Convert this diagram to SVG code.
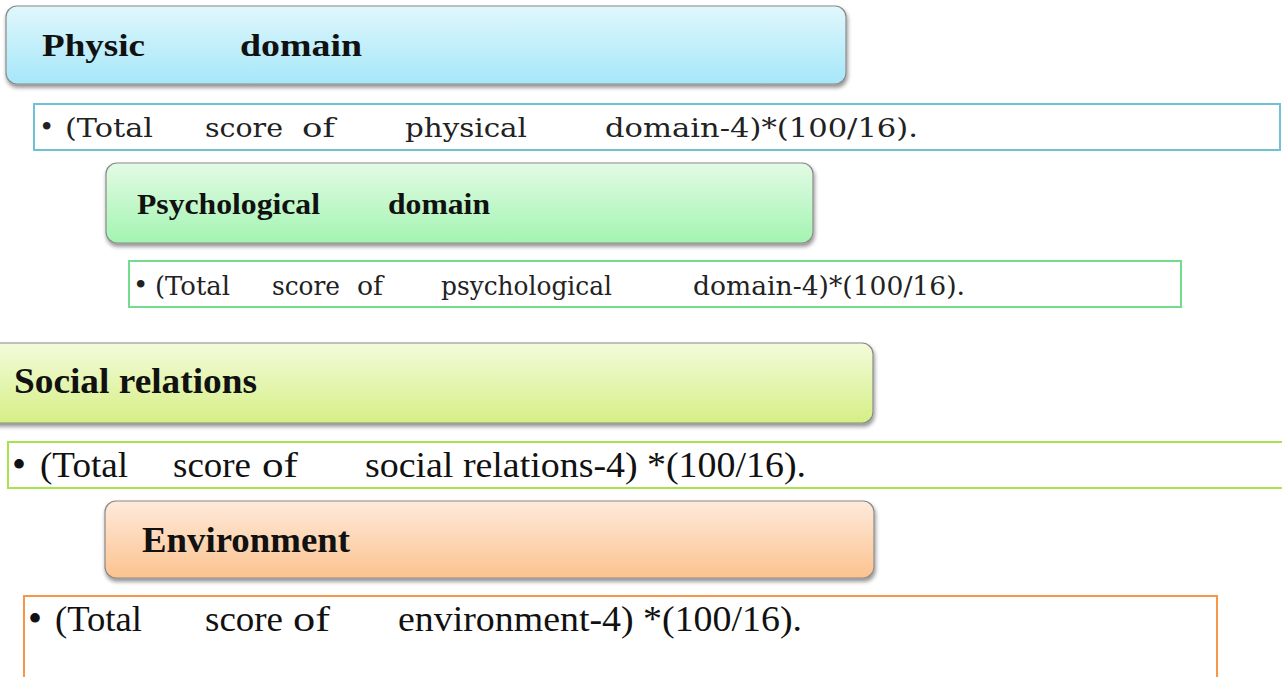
<svg xmlns="http://www.w3.org/2000/svg" width="1282" height="677" viewBox="0 0 1282 677">
  <defs>
    <linearGradient id="gBlue" x1="0" y1="0" x2="0" y2="1">
      <stop offset="0" stop-color="#e0f7fc"/>
      <stop offset="1" stop-color="#a6e7f9"/>
    </linearGradient>
    <linearGradient id="gGreen" x1="0" y1="0" x2="0" y2="1">
      <stop offset="0" stop-color="#e3fbe5"/>
      <stop offset="1" stop-color="#a3f4b1"/>
    </linearGradient>
    <linearGradient id="gLime" x1="0" y1="0" x2="0" y2="1">
      <stop offset="0" stop-color="#f4fbdc"/>
      <stop offset="1" stop-color="#d5ef85"/>
    </linearGradient>
    <linearGradient id="gOrange" x1="0" y1="0" x2="0" y2="1">
      <stop offset="0" stop-color="#feeadb"/>
      <stop offset="1" stop-color="#fcc38f"/>
    </linearGradient>
    <filter id="shadow" x="-5%" y="-20%" width="110%" height="150%">
      <feGaussianBlur in="SourceAlpha" stdDeviation="2"/>
      <feOffset dx="1" dy="3" result="b"/>
      <feComponentTransfer><feFuncA type="linear" slope="0.45"/></feComponentTransfer>
      <feMerge><feMergeNode/><feMergeNode in="SourceGraphic"/></feMerge>
    </filter>
  </defs>
  <style>
    .head { stroke: #8a8a8a; stroke-width: 1.2; filter: url(#shadow); }
    .list { fill: #ffffff; stroke-width: 2; }
    .hd1 { font-family: "Liberation Serif", serif; font-weight: bold; fill: #111; }
    .tx1 { font-family: "DejaVu Serif", serif; font-size: 26px; fill: #222; }
    .tx2 { font-family: "Liberation Serif", serif; font-size: 35px; fill: #111; }
    .dot1 { font-size: 26px; }
    .dot2 { font-size: 40px; }
  </style>

  <rect width="1282" height="677" fill="#ffffff"/>

  <!-- Physical domain -->
  <g id="physic">
    <rect class="head" x="6" y="6" width="840" height="78" rx="11" fill="url(#gBlue)"/>
    <text class="hd1" x="42" y="56" font-size="32" textLength="103" lengthAdjust="spacingAndGlyphs">Physic</text>
    <text class="hd1" x="240" y="56" font-size="32" textLength="122" lengthAdjust="spacingAndGlyphs">domain</text>
  </g>
  <g id="physic-formula">
    <rect class="list" x="34" y="104" width="1246" height="46" stroke="#6fc2d6"/>
    <g class="tx1">
      <text class="dot1" x="39" y="136">•</text>
      <text x="65" y="137" textLength="88" lengthAdjust="spacingAndGlyphs">(Total</text>
      <text x="205" y="137" textLength="78" lengthAdjust="spacingAndGlyphs">score</text>
      <text x="302" y="137" textLength="33" lengthAdjust="spacingAndGlyphs">of</text>
      <text x="405" y="137" textLength="122" lengthAdjust="spacingAndGlyphs">physical</text>
      <text x="605" y="137" textLength="313" lengthAdjust="spacingAndGlyphs">domain-4)*(100/16).</text>
    </g>
  </g>

  <!-- Psychological domain -->
  <g id="psychological">
    <rect class="head" x="106" y="163" width="707" height="80" rx="11" fill="url(#gGreen)"/>
    <text class="hd1" x="137" y="214" font-size="30" textLength="183" lengthAdjust="spacingAndGlyphs">Psychological</text>
    <text class="hd1" x="388" y="214" font-size="30" textLength="102" lengthAdjust="spacingAndGlyphs">domain</text>
  </g>
  <g id="psychological-formula">
    <rect class="list" x="129" y="261" width="1052" height="46" stroke="#74dc8e"/>
    <g class="tx1">
      <text class="dot1" x="133" y="294">•</text>
      <text x="155" y="295" textLength="75" lengthAdjust="spacingAndGlyphs">(Total</text>
      <text x="272" y="295" textLength="68" lengthAdjust="spacingAndGlyphs">score</text>
      <text x="357" y="295" textLength="26" lengthAdjust="spacingAndGlyphs">of</text>
      <text x="441" y="295" textLength="171" lengthAdjust="spacingAndGlyphs">psychological</text>
      <text x="693" y="295" textLength="272" lengthAdjust="spacingAndGlyphs">domain-4)*(100/16).</text>
    </g>
  </g>

  <!-- Social relations -->
  <g id="social">
    <rect class="head" x="-20" y="343" width="893" height="80" rx="11" fill="url(#gLime)"/>
    <text class="hd1" x="14" y="393" font-size="35" textLength="243" lengthAdjust="spacingAndGlyphs">Social relations</text>
  </g>
  <g id="social-formula">
    <rect class="list" x="8" y="442" width="1290" height="46" stroke="#a9e24f"/>
    <g class="tx2">
      <text class="dot2" x="12" y="478">•</text>
      <text x="40" y="477" textLength="88" lengthAdjust="spacingAndGlyphs">(Total</text>
      <text x="173" y="477" textLength="78" lengthAdjust="spacingAndGlyphs">score</text>
      <text x="262" y="477" textLength="36" lengthAdjust="spacingAndGlyphs">of</text>
      <text x="365" y="477" textLength="441" lengthAdjust="spacingAndGlyphs">social relations-4) *(100/16).</text>
    </g>
  </g>

  <!-- Environment -->
  <g id="environment">
    <rect class="head" x="105" y="501" width="769" height="77" rx="11" fill="url(#gOrange)"/>
    <text class="hd1" x="142" y="552" font-size="35" textLength="208" lengthAdjust="spacingAndGlyphs">Environment</text>
  </g>
  <g id="environment-formula">
    <rect class="list" x="24" y="596" width="1193" height="100" stroke="#f79646"/>
    <g class="tx2">
      <text class="dot2" x="28" y="632">•</text>
      <text x="55" y="631" textLength="87" lengthAdjust="spacingAndGlyphs">(Total</text>
      <text x="205" y="631" textLength="78" lengthAdjust="spacingAndGlyphs">score</text>
      <text x="293" y="631" textLength="37" lengthAdjust="spacingAndGlyphs">of</text>
      <text x="398" y="631" textLength="404" lengthAdjust="spacingAndGlyphs">environment-4) *(100/16).</text>
    </g>
  </g>

  <!-- no connectors between these blocks -->
  <g id="connectors"/>
</svg>
